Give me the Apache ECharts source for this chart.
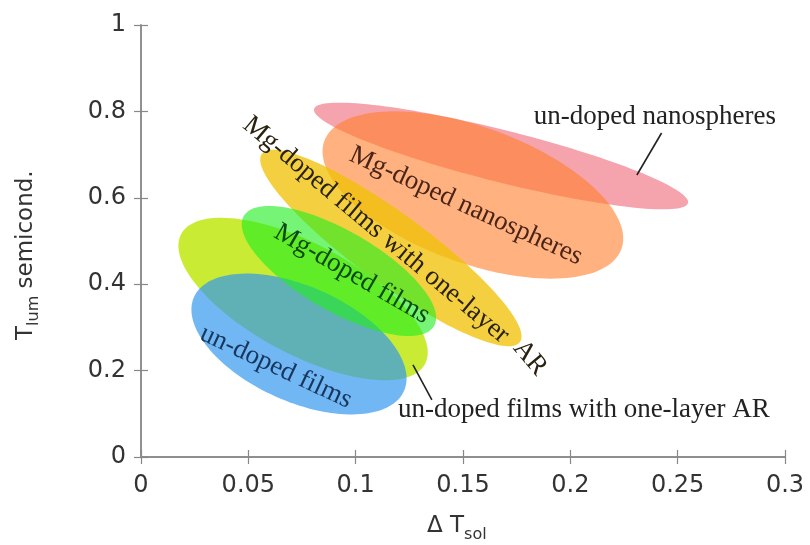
<!DOCTYPE html>
<html><head><meta charset="utf-8">
<script src="https://cdn.jsdelivr.net/npm/echarts@6/dist/echarts.min.js"></script>
<style>html,body{margin:0;padding:0;background:#fff}#c{width:810px;height:545px}</style>
</head><body><div id="c"></div>
<script>
// ---- data ----
const xTickLabels = ['0', '0.05', '0.1', '0.15', '0.2', '0.25', '0.3'];
const yTickLabels = ['0', '0.2', '0.4', '0.6', '0.8', '1'];

// regions, drawn bottom to top
const regionNames = ['un-doped nanospheres', 'Mg-doped nanospheres', 'Mg-doped films with one-layer AR',
                     'un-doped films with one-layer AR', 'un-doped films', 'Mg-doped films'];
// ellipse centre (ΔTsol, Tlum)
const centerX = [0.1677, 0.1546, 0.1164, 0.0755, 0.0736, 0.0922];
const centerY = [0.6968, 0.6065, 0.4838, 0.3657, 0.2616, 0.4306];
// end of the major axis (ΔTsol, Tlum)
const tipX = [0.2548, 0.2238, 0.1765, 0.1323, 0.1225, 0.1365];
const tipY = [0.5880, 0.4815, 0.2662, 0.2153, 0.1528, 0.3032];
// minor / major axis ratio
const axisRatio = [0.135, 0.43, 0.22, 0.40, 0.50, 0.364];

// labels: text, anchor (ΔTsol, Tlum), angle in degrees
const labelTexts = ['un-doped nanospheres', 'Mg-doped nanospheres', 'Mg-doped films with one-layer', 'AR',
                    'Mg-doped films', 'un-doped films', 'un-doped films with one-layer AR'];
const labelX = [0.2394, 0.1514, 0.1095, 0.1812, 0.0983, 0.0629, 0.2063];
const labelY = [0.787, 0.581, 0.5255, 0.2292, 0.4236, 0.2083, 0.1088];
const labelAngle = [0, -24.5, -39.9, -50, -30, -25, 0];
// leader lines (from label to region)
const leaderFromX = [0.2425, 0.1267];
const leaderFromY = [0.750, 0.213];
const leaderToX = [0.2310, 0.1355];
const leaderToY = [0.6528, 0.132];

// ---- styles ----
const regionFill = ['rgba(238,102,119,0.6)', 'rgba(255,127,42,0.6)', 'rgba(240,192,0,0.75)',
                    'rgba(187,230,0,0.8)', 'rgba(51,153,238,0.7)', 'rgba(34,238,34,0.62)'];
const labelColors = ['#222', '#4a2418', '#2a2210', '#2a2210', '#0b4a10', '#18355e', '#222'];
const serif = '"Liberation Serif", "DejaVu Serif", serif';
const sans = '"DejaVu Sans", sans-serif';

const ellipseData = regionNames.map((n, i) => [i, centerX[i], centerY[i], tipX[i], tipY[i], axisRatio[i]]);
const labelData = labelTexts.map((t, i) => [labelX[i], labelY[i], i]);
const leaderData = leaderFromX.map((v, i) => [v, leaderFromY[i], leaderToX[i], leaderToY[i]]);

const axisColor = '#888';
const chart = echarts.init(document.getElementById('c'), null, {renderer: 'canvas'});
const baseAxis = {
  type: 'value',
  axisLine: {show: true, lineStyle: {color: axisColor, width: 1.5}},
  axisTick: {show: true, inside: true, length: 7, lineStyle: {color: axisColor, width: 1.2}},
  splitLine: {show: false}
};
const subRich = {
  a: {fontFamily: sans, fontSize: 23, lineHeight: 32, fill: '#333'},
  b: {fontFamily: sans, fontSize: 16, lineHeight: 14, verticalAlign: 'bottom', fill: '#333'}
};
chart.setOption({
  animation: false,
  backgroundColor: '#fff',
  grid: {left: 141, right: 25, top: 25, bottom: 88},
  xAxis: [
    Object.assign({}, baseAxis, {min: 0, max: 0.3, interval: 0.05, position: 'bottom',
      axisLabel: {fontFamily: sans, fontSize: 24, color: '#333', margin: 17,
        formatter: (v) => xTickLabels[Math.round(v / 0.05)]}}),
    Object.assign({}, baseAxis, {min: 0, max: 0.3, interval: 0.05, position: 'top', axisLabel: {show: false}})
  ],
  yAxis: [
    Object.assign({}, baseAxis, {min: 0, max: 1, interval: 0.2, position: 'left',
      axisLabel: {fontFamily: sans, fontSize: 24, color: '#333', margin: 15,
        formatter: (v) => yTickLabels[Math.round(v / 0.2)]}}),
    Object.assign({}, baseAxis, {min: 0, max: 1, interval: 0.2, position: 'right', axisLabel: {show: false}})
  ],
  graphic: [
    {type: 'text', left: 427, top: 515, style: {text: '{a|Δ T}{b|sol}', fill: '#333', rich: subRich}},
    {type: 'text', x: 10, y: 340, rotation: Math.PI / 2, style: {text: '{a|T}{b|lum}{a| semicond.}', fill: '#333', rich: subRich}}
  ],
  series: [
    {
      type: 'custom', xAxisIndex: 0, yAxisIndex: 0, data: ellipseData, silent: true, z: 2,
      renderItem: function (params, api) {
        const i = api.value(0);
        const c = api.coord([api.value(1), api.value(2)]);
        const t = api.coord([api.value(3), api.value(4)]);
        const r = api.value(5);
        const dx = t[0] - c[0], dy = t[1] - c[1];
        const qx = -dy * r, qy = dx * r;
        const pts = [];
        for (let k = 0; k < 144; k++) {
          const a = k / 144 * Math.PI * 2;
          pts.push([c[0] + Math.cos(a) * dx + Math.sin(a) * qx, c[1] + Math.cos(a) * dy + Math.sin(a) * qy]);
        }
        return {type: 'polygon', shape: {points: pts}, style: {fill: regionFill[i]}};
      }
    },
    {
      type: 'custom', xAxisIndex: 0, yAxisIndex: 0, data: leaderData, silent: true, z: 3,
      renderItem: function (params, api) {
        const p = api.coord([api.value(0), api.value(1)]);
        const q = api.coord([api.value(2), api.value(3)]);
        return {type: 'line', shape: {x1: p[0], y1: p[1], x2: q[0], y2: q[1]}, style: {stroke: '#222', lineWidth: 1.6}};
      }
    },
    {
      type: 'custom', xAxisIndex: 0, yAxisIndex: 0, data: labelData, silent: true, z: 4,
      renderItem: function (params, api) {
        const p = api.coord([api.value(0), api.value(1)]);
        const i = api.value(2);
        return {type: 'text', x: p[0], y: p[1], rotation: labelAngle[i] * Math.PI / 180,
          style: {text: labelTexts[i], fontFamily: serif, fontSize: 27, fill: labelColors[i],
                  align: 'center', verticalAlign: 'middle'}};
      }
    }
  ]
});
</script>
</body></html>
